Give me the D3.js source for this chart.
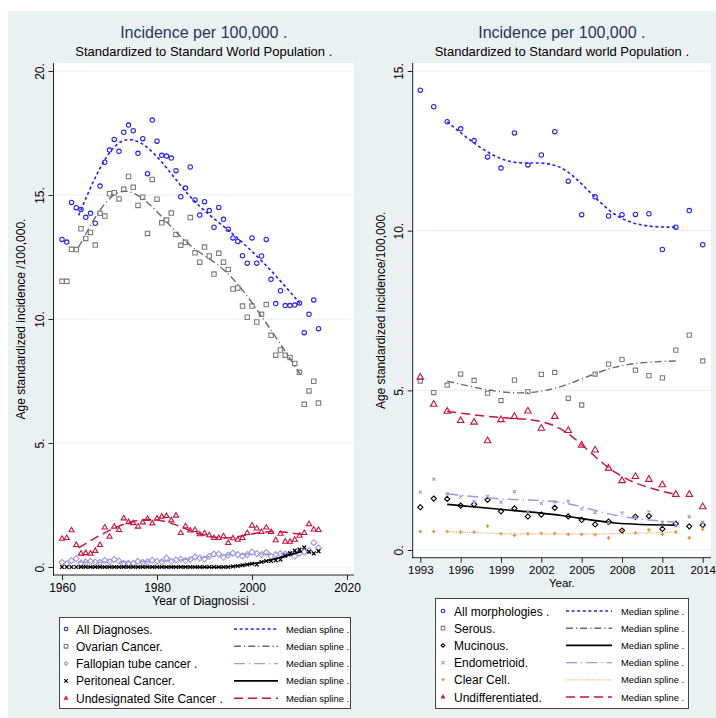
<!DOCTYPE html>
<html>
<head>
<meta charset="utf-8">
<script src="https://cdn.jsdelivr.net/npm/d3@7"></script>
<style>
  body { margin: 0; background: #fff; }
  svg { display: block; }
  text { font-family: "Liberation Sans", Arial, Helvetica, sans-serif; fill: #000; }
</style>
</head>
<body>
<svg id="chart" width="716" height="718"></svg>
<script>
// ---------- Left panel: incidence by site, 1960-2014 ----------
const yearsLeft = d3.range(1960, 2015);
const allDiagnoses = [13.21,13.10,14.70,14.49,14.42,14.10,14.26,13.86,15.36,16.32,
  16.81,17.24,16.76,17.53,17.82,17.59,16.68,17.27,15.86,18.02,
  17.17,16.60,16.57,16.49,15.98,14.93,15.28,16.13,14.80,14.19,
  14.73,14.37,13.70,14.50,14.02,13.62,13.27,13.13,12.55,12.25,
  13.27,12.25,12.54,13.21,11.60,10.62,11.14,10.54,10.54,10.56,
  10.65,9.45,10.19,10.77,9.61];
const ovarian = [11.52,11.52,12.81,12.80,13.64,13.25,13.49,12.98,14.26,14.15,
  15.05,15.09,14.84,15.23,15.75,15.31,14.58,14.91,13.45,15.63,
  14.83,13.88,13.99,14.27,13.41,12.97,13.09,14.09,12.67,12.29,
  12.90,12.54,11.81,12.65,12.29,12.00,11.21,11.25,10.52,10.07,
  10.52,9.88,10.19,10.58,9.34,8.54,8.75,8.54,8.45,8.21,
  7.85,6.56,7.10,7.49,6.61];
const fallopian = [0.19,0.13,0.26,0.34,0.16,0.20,0.23,0.20,0.19,0.27,
  0.21,0.30,0.24,0.15,0.15,0.15,0.23,0.19,0.21,0.27,
  0.23,0.21,0.36,0.23,0.28,0.32,0.26,0.30,0.40,0.36,
  0.32,0.43,0.52,0.52,0.39,0.48,0.56,0.50,0.44,0.50,
  0.60,0.54,0.50,0.58,0.43,0.50,0.54,0.52,0.54,0.43,
  0.56,0.60,0.66,0.98,0.77];
const peritoneal = [0,0,0,0,0,0,0,0,0,0,
  0,0,0,0,0,0,0,0,0,0,
  0,0,0,0,0,0,0,0,0,0,
  0,0,0,0,0,0,0.02,0.04,0.07,0.10,
  0.13,0.10,0.20,0.24,0.24,0.27,0.30,0.45,0.55,0.66,
  0.70,0.79,0.62,0.55,0.64];
const undesignated = [1.14,1.17,1.48,0.89,0.54,0.56,0.54,0.65,0.89,1.59,
  1.22,1.63,1.49,1.96,1.81,1.77,1.63,1.80,1.94,1.76,
  1.95,2.03,2.06,1.88,2.07,1.37,1.64,1.47,1.49,1.32,
  1.36,1.28,1.17,1.17,1.24,0.97,1.16,1.10,1.17,1.37,
  1.67,1.55,1.41,1.59,1.41,1.08,1.34,1.02,1.02,1.10,
  1.26,1.37,1.73,1.51,1.49];
const leftXTicks = [1960, 1980, 2000, 2020];
const leftYTicks = [0, 5, 10, 15, 20];

// ---------- Right panel: incidence by morphology, 1993-2014 ----------
const yearsRight = d3.range(1993, 2015);
const allMorphologies = [14.40,13.88,13.41,13.19,12.82,12.31,11.96,13.06,12.06,12.37,
  13.10,11.55,10.50,11.06,10.46,10.50,10.51,10.53,9.41,10.11,10.63,9.56];
const serous = [5.29,4.93,5.16,5.51,5.31,4.91,4.68,5.32,4.96,5.50,
  5.56,4.75,4.54,5.51,5.82,5.97,5.63,5.46,5.39,6.26,6.73,5.92];
const mucinous = [1.34,1.61,1.60,1.39,1.43,1.57,1.21,1.30,1.05,1.11,
  1.32,1.05,0.94,0.80,0.89,0.61,1.04,1.06,0.66,0.82,0.74,0.78];
const endometrioid = [1.81,2.22,1.76,1.66,1.52,1.68,1.50,1.83,1.21,1.46,
  1.51,1.53,1.28,1.17,0.84,1.16,1.02,1.19,0.86,0.76,1.04,0.87];
const clearCell = [0.58,0.58,0.58,0.56,0.56,0.75,0.51,0.46,0.51,0.52,
  0.52,0.49,0.49,0.48,0.38,0.61,0.54,0.63,0.49,0.56,0.38,0.65];
const undifferentiated = [5.41,4.56,4.34,4.05,4.00,3.42,4.08,4.18,4.35,3.81,
  4.18,3.74,3.28,3.13,2.56,2.17,2.30,2.21,2.04,1.74,1.74,1.35];
const rightXTicks = [1993, 1996, 1999, 2002, 2005, 2008, 2011, 2014];
const rightYTicks = [0, 5, 10, 15];

// ---------- helpers ----------
const FONT = '"Liberation Sans", Arial, Helvetica, sans-serif';
const svg = d3.select("#chart");

// marker outlines, r = half-size in px
const shapes = {
  circle:   r => `M${r},0A${r},${r} 0 1,1 ${-r},0A${r},${r} 0 1,1 ${r},0Z`,
  square:   r => `M${-r},${-r}H${r}V${r}H${-r}Z`,
  diamond:  r => `M0,${-r}L${r},0L0,${r}L${-r},0Z`,
  triangle: r => { const h = r * Math.sqrt(3) / 2; return `M0,${-r}L${h},${r / 2}L${-h},${r / 2}Z`; },
  x:        r => `M${-r},${-r}L${r},${r}M${-r},${r}L${r},${-r}`,
  plus:     r => `M${-r},0H${r}M0,${-r}V${r}`
};

// cross-median spline knots: split x range into round(sqrt(n)) equal bands,
// take the median x and median y of each band
function medianKnots(xs, ys) {
  const n = xs.length;
  const k = Math.max(1, Math.round(Math.sqrt(n)));
  const lo = d3.min(xs), hi = d3.max(xs), w = (hi - lo) / k;
  const bands = d3.range(k).map(() => []);
  xs.forEach((xv, i) => {
    const b = Math.min(k - 1, Math.floor((xv - lo) / w + 1e-9));
    bands[b].push([xv, ys[i]]);
  });
  return bands.filter(b => b.length).map(b => [d3.median(b, d => d[0]), d3.median(b, d => d[1])]);
}

// background
svg.append("rect").attr("width", 716).attr("height", 718).attr("fill", "#fff");
svg.append("rect").attr("x", 8).attr("y", 11).attr("width", 708).attr("height", 707).attr("fill", "#eaf1f3");

function drawPanel(cfg) {
  const g = svg.append("g");
  const P = cfg.plot;
  const x = d3.scaleLinear().domain(cfg.xDomain).range(cfg.xRange);
  const y = d3.scaleLinear().domain(cfg.yDomain).range(cfg.yRange);

  // titles
  const cx = (P.x0 + P.x1) / 2;
  g.append("text").attr("x", cx).attr("y", 38).attr("text-anchor", "middle")
    .style("font-size", "16px").style("fill", "#27365f").text(cfg.title);
  g.append("text").attr("x", cx).attr("y", 56).attr("text-anchor", "middle")
    .style("font-size", "13px").text(cfg.subtitle);

  // plot region
  g.append("rect").attr("x", P.x0).attr("y", P.y0)
    .attr("width", P.x1 - P.x0).attr("height", P.y1 - P.y0).attr("fill", "#fff");

  // grid
  g.append("g").selectAll("line").data(cfg.yTicks).join("line")
    .attr("x1", P.x0).attr("x2", P.x1)
    .attr("y1", d => y(d)).attr("y2", d => y(d))
    .attr("stroke", "#e7eff1").attr("stroke-width", 1);

  // y axis
  const ya = g.append("g").attr("transform", `translate(${P.x0},0)`)
    .call(d3.axisLeft(y).tickValues(cfg.yTicks).tickSize(5).tickSizeOuter(0).tickFormat(d => d + "."));
  ya.select(".domain").remove();
  ya.selectAll(".tick line").attr("stroke", "#222");
  ya.selectAll(".tick text")
    .attr("x", null).attr("dy", null).attr("text-anchor", "middle")
    .attr("transform", "translate(-10,0) rotate(-90)")
    .style("font-family", FONT).style("font-size", "12px").attr("fill", "#000");
  g.append("line").attr("x1", P.x0).attr("x2", P.x0).attr("y1", P.y0).attr("y2", P.y1 + 0.5)
    .attr("stroke", "#222").attr("stroke-width", 1);

  // x axis
  const xa = g.append("g").attr("transform", `translate(0,${P.y1})`)
    .call(d3.axisBottom(x).tickValues(cfg.xTicks).tickSize(5).tickSizeOuter(0).tickFormat(d3.format("d")));
  xa.select(".domain").remove();
  xa.selectAll(".tick line").attr("stroke", "#222");
  xa.selectAll(".tick text").attr("y", cfg.xLabelOffset)
    .style("font-family", FONT).style("font-size", cfg.xTickFont).attr("fill", "#000");
  g.append("line").attr("x1", P.x0 - 0.5).attr("x2", P.x1).attr("y1", P.y1).attr("y2", P.y1)
    .attr("stroke", "#222").attr("stroke-width", 1);

  // axis titles
  g.append("text").attr("transform", `translate(${cfg.yTitleX},${(P.y0 + P.y1) / 2}) rotate(-90)`)
    .attr("text-anchor", "middle").style("font-size", "12px").text(cfg.yTitle);
  g.append("text").attr("x", cx).attr("y", cfg.xTitleY).attr("text-anchor", "middle")
    .style("font-size", cfg.xTitleFont).text(cfg.xTitle);

  // series: markers then median spline, in legend order
  const line = d3.line().x(d => x(d[0])).y(d => y(d[1])).curve(d3.curveNatural);
  cfg.series.forEach(s => {
    const pts = cfg.years.map((yr, i) => [yr, s.values[i]]);
    const filled = s.shape === "x" || s.shape === "plus";
    g.append("g").selectAll("path").data(pts).join("path")
      .attr("transform", d => `translate(${x(d[0])},${y(d[1])})`)
      .attr("d", shapes[s.shape](s.r))
      .attr("fill", "none")
      .attr("stroke", s.color)
      .attr("stroke-width", filled ? 1.2 : 1.1);
    const knots = medianKnots(cfg.years, s.values);
    g.append("path").datum(knots).attr("d", line)
      .attr("fill", "none").attr("stroke", s.lineColor || s.color)
      .attr("stroke-width", s.lw || 1.5)
      .attr("stroke-dasharray", s.dash || null);
  });

  // legend
  const L = cfg.legend;
  g.append("rect").attr("x", L.x0 + 0.5).attr("y", L.y0 + 0.5)
    .attr("width", L.x1 - L.x0).attr("height", L.y1 - L.y0)
    .attr("fill", "#fff").attr("stroke", "#444").attr("stroke-width", 1);
  cfg.series.forEach((s, i) => {
    const ry = L.rowY0 + i * L.rowStep;
    g.append("path").attr("transform", `translate(${L.markerX},${ry})`)
      .attr("d", shapes[s.shape](s.legendR || 1.8)).attr("fill", "none")
      .attr("stroke", s.color).attr("stroke-width", 1.1);
    g.append("text").attr("x", L.labelX).attr("y", ry + 4.5)
      .style("font-size", "12px").text(s.name);
    g.append("line").attr("x1", L.lineX0).attr("x2", L.lineX1).attr("y1", ry).attr("y2", ry)
      .attr("stroke", s.lineColor || s.color).attr("stroke-width", s.lw || 1.5)
      .attr("stroke-dasharray", s.dash || null);
    g.append("text").attr("x", L.splineX).attr("y", ry + 3.5)
      .style("font-size", "9.4px").text("Median spline .");
  });
}

const BLUE = "#1f1fff", GRAY = "#7b7b7b", LAV = "#9d99de", RED = "#c8143c", ORANGE = "#f5861f";

drawPanel({
  title: "Incidence per 100,000 .",
  subtitle: "Standardized to Standard World Population .",
  plot: { x0: 53.5, x1: 354, y0: 63, y1: 575 },
  xDomain: [1960, 2020], xRange: [62, 347],
  yDomain: [0, 20], yRange: [567, 71],
  xTicks: leftXTicks, yTicks: leftYTicks,
  xLabelOffset: 8, xTickFont: "12px",
  years: yearsLeft,
  yTitle: "Age standardized incidence /100,000.", yTitleX: 25,
  xTitle: "Year of Diagnosisi .", xTitleY: 605, xTitleFont: "12px",
  series: [
    { name: "All Diagnoses.", values: allDiagnoses, shape: "circle", r: 2.2, color: BLUE, dash: "3,2.6", lw: 1.6 },
    { name: "Ovarian Cancer.", values: ovarian, shape: "square", r: 2.2, color: GRAY, lineColor: "#6a6a6a", dash: "7,3,1.2,3", lw: 1.4 },
    { name: "Fallopian tube cancer .", values: fallopian, shape: "diamond", r: 3, color: LAV, dash: "11,4,1.2,4", lw: 1.4 },
    { name: "Peritoneal Cancer.", values: peritoneal, shape: "x", r: 1.9, color: "#000", lw: 1.6 },
    { name: "Undesignated Site Cancer .", values: undesignated, shape: "triangle", r: 3, color: RED, dash: "9,5", lw: 1.5 }
  ],
  legend: { x0: 59, x1: 350, y0: 617, y1: 708, rowY0: 629, rowStep: 17.3,
            markerX: 66, labelX: 76, lineX0: 234, lineX1: 278, splineX: 286 }
});

drawPanel({
  title: "Incidence per 100,000 .",
  subtitle: "Standardized to Standard world Population .",
  plot: { x0: 412.7, x1: 711, y0: 63, y1: 557.7 },
  xDomain: [1993, 2014], xRange: [420.3, 702.7],
  yDomain: [0, 15], yRange: [550, 71],
  xTicks: rightXTicks, yTicks: rightYTicks,
  xLabelOffset: 8, xTickFont: "11.5px",
  years: yearsRight,
  yTitle: "Age standardized incidence/100,000.", yTitleX: 384.5,
  xTitle: "Year.", xTitleY: 587, xTitleFont: "11.5px",
  series: [
    { name: "All morphologies .", values: allMorphologies, shape: "circle", r: 2.2, color: BLUE, dash: "3,2.6", lw: 1.6 },
    { name: "Serous.", values: serous, shape: "square", r: 2.1, color: GRAY, lineColor: "#6a6a6a", dash: "7,3,1.2,3", lw: 1.4 },
    { name: "Mucinous.", values: mucinous, shape: "diamond", r: 2.6, color: "#000", lw: 1.6 },
    { name: "Endometrioid.", values: endometrioid, shape: "x", r: 1.5, color: LAV, dash: "11,4,1.2,4", lw: 1.4 },
    { name: "Clear Cell.", values: clearCell, shape: "plus", r: 1.8, color: ORANGE, lineColor: "#f7a867", dash: "1,1.2", lw: 1.3 },
    { name: "Undifferentiated.", values: undifferentiated, shape: "triangle", r: 3.8, color: RED, dash: "9,5", lw: 1.5 }
  ],
  legend: { x0: 435, x1: 688, y0: 598, y1: 708, rowY0: 611, rowStep: 17.2,
            markerX: 443, labelX: 454, lineX0: 566, lineX1: 612, splineX: 621 }
});
</script>
</body>
</html>
